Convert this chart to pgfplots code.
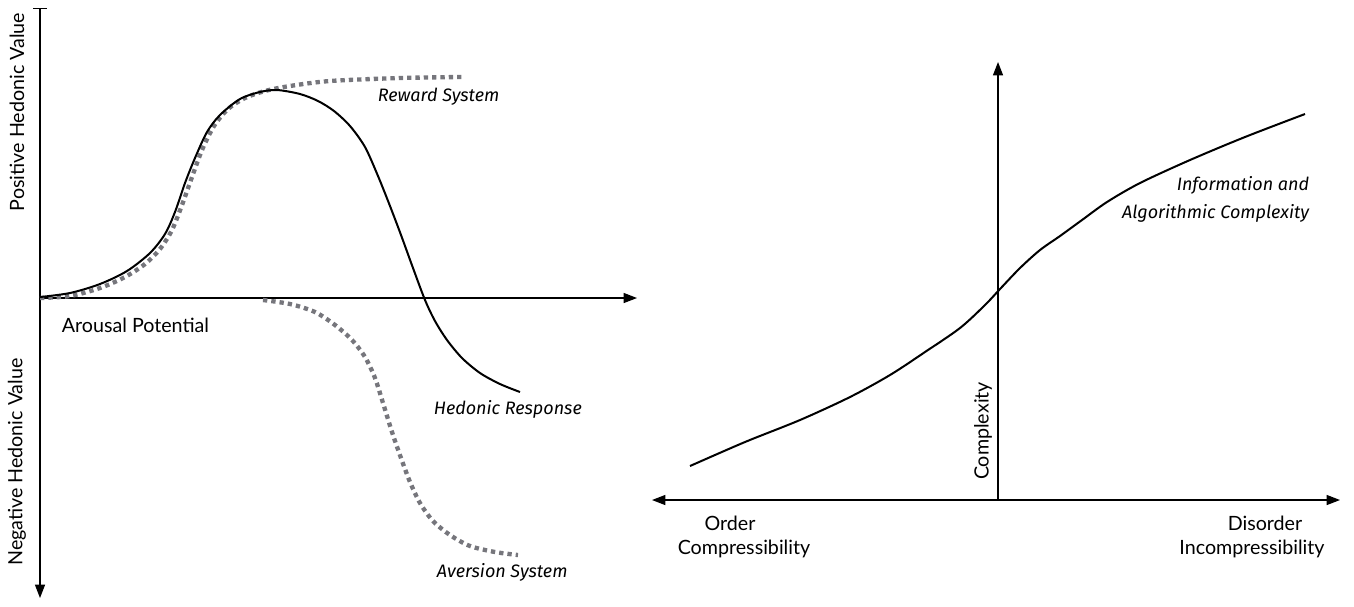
\documentclass[border=0pt]{standalone}
\usepackage{fontspec}
\setmainfont{Lato}
\newfontfamily\hand{Fira Sans}
\usepackage{pgfplots}
\pgfplotsset{compat=1.18}
\usetikzlibrary{arrows.meta}
\definecolor{dotgray}{RGB}{118,118,124}

\begin{document}
\begin{tikzpicture}
\begin{axis}[
  scale only axis, width=812.4pt, height=363.6pt,
  xmin=0, xmax=1354, ymin=0, ymax=606, y dir=reverse,
  hide axis, clip=false,
]
  \path (axis cs:0,0) rectangle (axis cs:1354,606);

  % left panel axes
  \draw[line width=0.7pt, {Bar[width=8pt]}-{Triangle[length=8pt,width=6pt]}] (axis cs:40,8) -- (axis cs:40,598);
  \draw[line width=0.7pt, -{Triangle[length=8pt,width=6pt]}] (axis cs:40,298) -- (axis cs:637,298);

  % reward system
  \addplot[smooth, dotgray, line width=2.6pt, dash pattern=on 2.6pt off 2.4pt] coordinates {
    (40,298) (70,296) (100,288) (125,277) (145,264) (160,249) (172,230) (182,205)
    (192,177) (202,150) (214,126) (228,109) (245,98) (265,91) (290,86) (330,81)
    (400,78) (463,77)
  };
  % aversion system
  \addplot[smooth, dotgray, line width=2.6pt, dash pattern=on 2.6pt off 2.4pt] coordinates {
    (263,300) (290,304) (315,312) (335,325) (352,340) (365,357) (375,378) (383,403)
    (392,432) (401,458) (410,482) (420,503) (433,521) (450,535) (470,546) (495,552)
    (518,555)
  };
  % hedonic response
  \addplot[smooth, black, line width=1.2pt] coordinates {
    (40,297) (70,293) (100,284) (127,271) (150,253) (165,234) (175,212) (185,183)
    (195,158) (207,132) (220,115) (240,99) (260,92) (277,90) (300,94) (318,101)
    (334,111) (350,126) (365,147) (378,176) (390,206) (401,235) (413,268)
    (425,300) (435,321) (447,340) (462,358) (480,373) (500,384) (520,392)
  };

  \node[rotate=90, font=\fontsize{11.8}{12}\selectfont] at (axis cs:17,112) {Positive Hedonic Value};
  \node[rotate=90, font=\fontsize{11.8}{12}\selectfont] at (axis cs:17,462) {Negative Hedonic Value};
  \node[anchor=west, font=\fontsize{11.8}{12}\selectfont] at (axis cs:56,325) {Arousal Potential};
  \node[anchor=west, font=\hand\itshape\fontsize{10.8}{12}\selectfont] at (axis cs:372,97) {Reward System};
  \node[anchor=west, font=\hand\itshape\fontsize{10.8}{12}\selectfont] at (axis cs:428,409) {Hedonic Response};
  \node[anchor=west, font=\hand\itshape\fontsize{10.8}{12}\selectfont] at (axis cs:431,572) {Aversion System};

  % right panel axes
  \draw[line width=0.7pt, {Triangle[length=8pt,width=6pt]}-{Triangle[length=8pt,width=6pt]}] (axis cs:652,500) -- (axis cs:1340,500);
  \draw[line width=0.7pt, -{Triangle[length=8pt,width=6pt]}] (axis cs:998,500) -- (axis cs:998,62);

  % complexity curve
  \addplot[smooth, black, line width=1.2pt] coordinates {
    (690,466) (745,442) (800,420) (850,397) (890,375) (925,352) (960,328) (985,305)
    (1000,289) (1020,268) (1040,250) (1060,236) (1082,220) (1107,202) (1140,183)
    (1190,160) (1245,137) (1305,114)
  };

  \node[rotate=90, font=\fontsize{11.8}{12}\selectfont] at (axis cs:983,431) {Complexity};
  \node[font=\fontsize{11.8}{12}\selectfont] at (axis cs:730,523) {Order};
  \node[font=\fontsize{11.8}{12}\selectfont] at (axis cs:744,549) {Compressibility};
  \node[font=\fontsize{11.8}{12}\selectfont] at (axis cs:1265,523) {Disorder};
  \node[font=\fontsize{11.8}{12}\selectfont] at (axis cs:1252,549) {Incompressibility};
  \node[anchor=east, font=\hand\itshape\fontsize{10.8}{12}\selectfont] at (axis cs:1315,185) {Information and};
  \node[anchor=east, font=\hand\itshape\fontsize{10.8}{12}\selectfont] at (axis cs:1315,213) {Algorithmic Complexity};
\end{axis}
\end{tikzpicture}
\end{document}
